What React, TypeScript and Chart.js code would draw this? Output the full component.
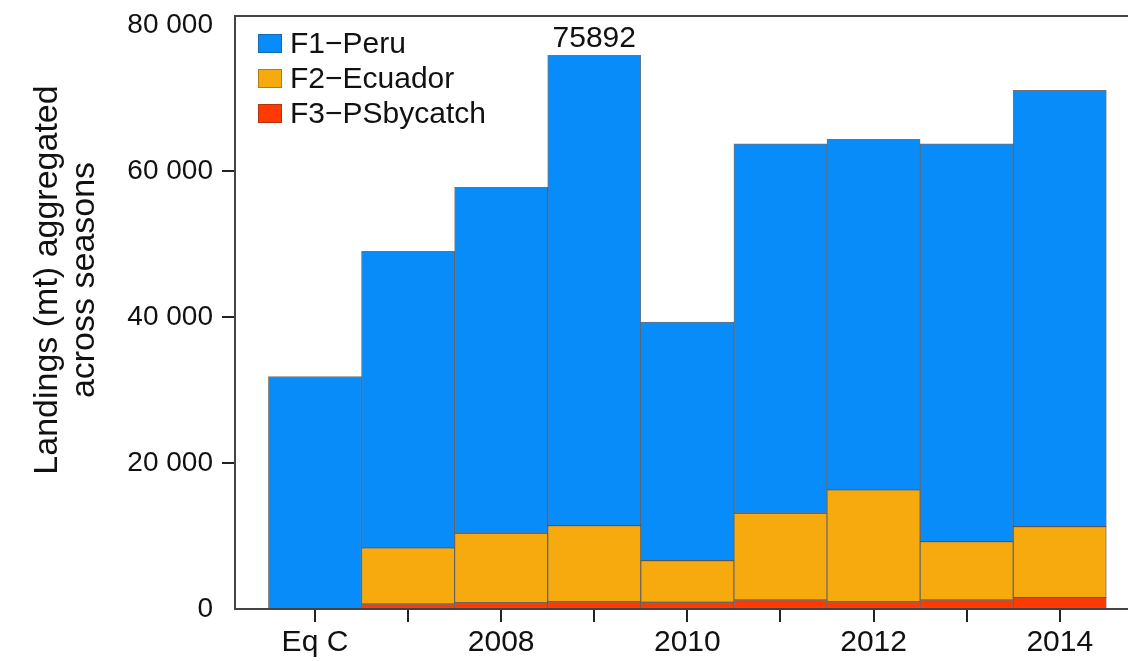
import React, { useEffect, useRef } from "react";
import { Chart, registerables } from "chart.js";

Chart.register(...registerables);

// ---- data ----
const categories = ["Eq C", "2007", "2008", "2009", "2010", "2011", "2012", "2013", "2014"];
const tickLabels = ["Eq C", "", "2008", "", "2010", "", "2012", "", "2014"];
const peru = [31870, 40650, 47410, 64462, 32710, 50630, 48060, 54530, 59820];
const ecuador = [0, 7680, 9530, 10430, 5710, 11900, 15330, 8000, 9740];
const psBycatch = [0, 690, 860, 1000, 920, 1230, 1000, 1230, 1550];
const seriesLabels = ["F1\u2212Peru", "F2\u2212Ecuador", "F3\u2212PSbycatch"];
const yTickValues = [0, 20000, 40000, 60000, 80000];
const annotatedIndex = 3;
const yTitle = ["Landings (mt) aggregated", "across seasons"];

const COLORS = {
  peru: "#088cfa",
  ecuador: "#f7aa0e",
  ps: "#ff3a00",
};
const FONT = "'Liberation Sans', Arial, Helvetica, sans-serif";

function fmt(v: number): string {
  return String(v).replace(/\B(?=(\d{3})+(?!\d))/g, " ");
}

export default function App() {
  const ref = useRef<HTMLCanvasElement | null>(null);

  useEffect(() => {
    if (!ref.current) return;
    const toXY = (arr: number[]) => arr.map((v, i) => ({ x: i, y: v }));
    const barBase = {
      borderWidth: 1,
      borderColor: "rgba(40,40,40,0.65)",
      borderSkipped: false as const,
      barPercentage: 1,
      categoryPercentage: 1,
    };

    const overlay = {
      id: "overlay",
      afterDraw(chart: any) {
        const { ctx, chartArea, scales } = chart;
        ctx.save();
        // top border
        ctx.strokeStyle = "#444";
        ctx.lineWidth = 2;
        ctx.beginPath();
        ctx.moveTo(chartArea.left - 1, chartArea.top);
        ctx.lineTo(chart.width, chartArea.top);
        ctx.stroke();

        // y title
        ctx.fillStyle = "#111";
        ctx.font = `34px ${FONT}`;
        ctx.textAlign = "center";
        ctx.textBaseline = "middle";
        const cy = 280;
        yTitle.forEach((line, i) => {
          ctx.save();
          ctx.translate(48 + i * 37, cy);
          ctx.rotate(-Math.PI / 2);
          ctx.fillText(line, 0, 0);
          ctx.restore();
        });

        // legend
        const legendColors = [COLORS.peru, COLORS.ecuador, COLORS.ps];
        ctx.font = `30px ${FONT}`;
        ctx.textAlign = "left";
        seriesLabels.forEach((lab, i) => {
          const yc = 43.5 + i * 35;
          ctx.fillStyle = legendColors[i];
          ctx.fillRect(258, yc - 9.5, 24, 19);
          ctx.strokeStyle = "rgba(40,40,40,0.35)";
          ctx.lineWidth = 1;
          ctx.strokeRect(258.5, yc - 9, 23, 18);
          ctx.fillStyle = "#111";
          ctx.fillText(lab, 290, yc + 1);
        });

        // value annotation
        const total = peru[annotatedIndex] + ecuador[annotatedIndex] + psBycatch[annotatedIndex];
        const xp = scales.x.getPixelForValue(annotatedIndex);
        const yp = scales.y.getPixelForValue(total);
        ctx.textAlign = "center";
        ctx.fillText(String(total), xp, yp - 17);
        ctx.restore();
      },
    };

    const chart = new Chart(ref.current, {
      type: "bar",
      data: {
        labels: categories,
        datasets: [
          { label: seriesLabels[2], data: toXY(psBycatch) as any, backgroundColor: COLORS.ps, ...barBase },
          { label: seriesLabels[1], data: toXY(ecuador) as any, backgroundColor: COLORS.ecuador, ...barBase },
          { label: seriesLabels[0], data: toXY(peru) as any, backgroundColor: COLORS.peru, ...barBase },
        ],
      },
      options: {
        responsive: false,
        animation: false,
        layout: { padding: { top: 16, right: 0, left: 0, bottom: 0 } },
        plugins: {
          legend: { display: false },
          tooltip: { enabled: false },
        },
        scales: {
          x: {
            type: "linear",
            stacked: true,
            offset: false,
            min: -0.859,
            max: 8.733,
            afterBuildTicks: (scale: any) => {
              scale.ticks = categories.map((_, i) => ({ value: i }));
            },
            afterFit: (scale: any) => {
              scale.height = 52;
              scale.paddingLeft = 0;
              scale.paddingRight = 0;
            },
            ticks: {
              autoSkip: false,
              maxRotation: 0,
              padding: 3,
              color: "#111",
              font: { family: FONT, size: 30 },
              callback: (v: any) => tickLabels[Number(v)] ?? "",
            },
            grid: {
              display: true,
              offset: false,
              drawOnChartArea: false,
              drawTicks: true,
              tickLength: 13,
              color: "#222",
              lineWidth: 2,
            },
            border: { display: true, color: "#444", width: 2 },
          },
          y: {
            type: "linear",
            stacked: true,
            min: 0,
            max: 81300,
            afterBuildTicks: (scale: any) => {
              scale.ticks = yTickValues.map((v) => ({ value: v }));
            },
            afterFit: (scale: any) => {
              scale.width = 235;
              scale.paddingTop = 0;
              scale.paddingBottom = 0;
            },
            ticks: {
              padding: 9,
              color: "#111",
              font: { family: FONT, size: 28 },
              callback: (v: any) => fmt(Number(v)),
            },
            grid: {
              display: true,
              drawOnChartArea: false,
              drawTicks: true,
              tickLength: 13,
              lineWidth: 2,
              color: (c: any) =>
                c.tick && (c.tick.value === 0 || c.tick.value === 80000) ? "rgba(0,0,0,0)" : "#222",
            },
            border: { display: true, color: "#444", width: 2 },
          },
        },
      },
      plugins: [overlay],
    });
    return () => chart.destroy();
  }, []);

  return (
    <div style={{ position: "absolute", left: 0, top: 0, width: 1128, height: 661, background: "#fff" }}>
      <canvas ref={ref} width={1128} height={661} />
    </div>
  );
}
